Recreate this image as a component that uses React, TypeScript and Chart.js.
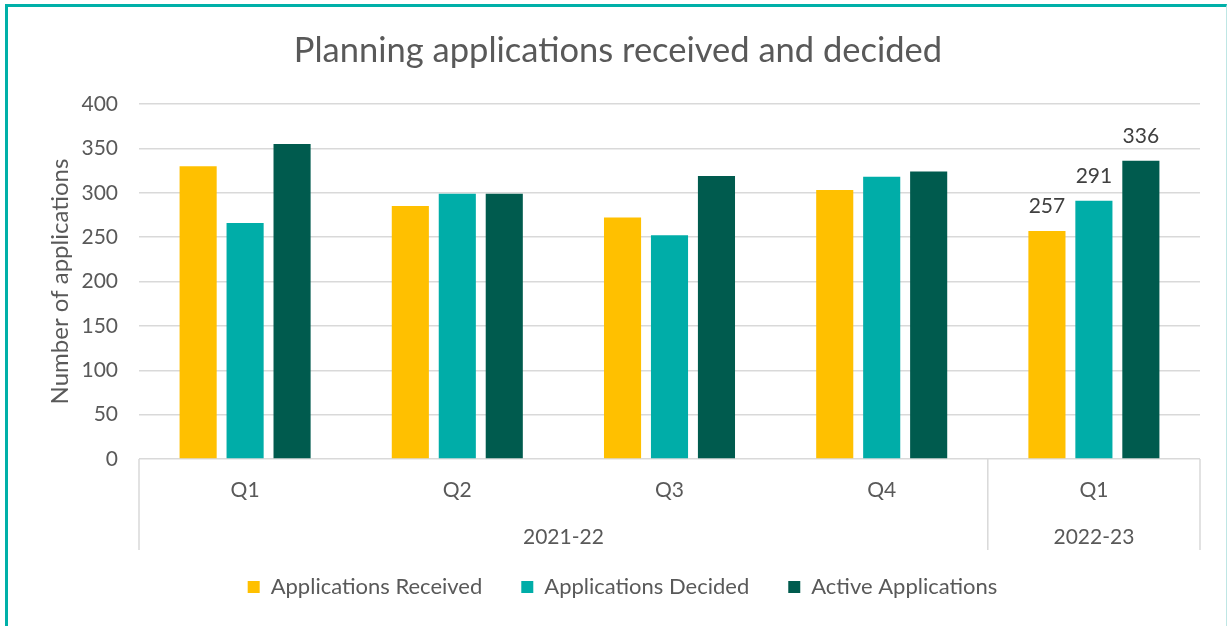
import React, { useEffect, useRef } from "react";
import { Chart, registerables } from "chart.js";

Chart.register(...registerables);

const quarters = ["Q1", "Q2", "Q3", "Q4", "Q1"];
const years = ["2021-22", "2022-23"];
const yearSpans = [4, 1];
const received = [330, 285, 272, 303, 257];
const decided = [266, 299, 252, 318, 291];
const active = [355, 299, 319, 324, 336];
const labelledIndex = 4;
const yTicks = [0, 50, 100, 150, 200, 250, 300, 350, 400];

const FONT = "Lato, 'Open Sans', sans-serif";
const TEXT = "#595959";
const GRID = "#d9d9d9";

const overlayPlugin = {
  id: "overlay",
  afterLayout(chart: any) {
    if (chart.legend) {
      chart.legend.left += 7.5;
      chart.legend.right += 7.5;
    }
  },
  afterDatasetsDraw(chart: any) {
    const { ctx } = chart;
    ctx.save();
    ctx.font = `21px ${FONT}`;
    ctx.fillStyle = "#404040";
    ctx.textAlign = "center";
    ctx.textBaseline = "alphabetic";
    chart.data.datasets.forEach((ds: any, di: number) => {
      const meta = chart.getDatasetMeta(di);
      const bar = meta.data[labelledIndex];
      if (!bar) return;
      ctx.fillText(String(ds.data[labelledIndex]), bar.x, bar.y - 18);
    });
    ctx.restore();
  },
  afterDraw(chart: any) {
    const { ctx, chartArea } = chart;
    const x = chart.scales.x;
    ctx.save();
    // title
    ctx.font = `34.5px ${FONT}`;
    ctx.fillStyle = TEXT;
    ctx.textAlign = "center";
    ctx.textBaseline = "alphabetic";
    ctx.fillText("Planning applications received and decided", 618, 62);

    // group separators and labels
    const bounds: number[] = [chartArea.left];
    let idx = 0;
    yearSpans.forEach((span) => {
      idx += span;
      if (idx < quarters.length) {
        bounds.push((x.getPixelForValue(idx - 1) + x.getPixelForValue(idx)) / 2);
      } else {
        bounds.push(chartArea.right);
      }
    });
    ctx.strokeStyle = GRID;
    ctx.lineWidth = 1.5;
    bounds.forEach((bx) => {
      ctx.beginPath();
      ctx.moveTo(bx, chartArea.bottom);
      ctx.lineTo(bx, chartArea.bottom + 91);
      ctx.stroke();
    });
    ctx.font = `21px ${FONT}`;
    ctx.fillStyle = TEXT;
    ctx.textBaseline = "middle";
    years.forEach((yr, i) => {
      ctx.fillText(yr, (bounds[i] + bounds[i + 1]) / 2, chartArea.bottom + 78);
    });
    ctx.restore();
  },
};

export default function App() {
  const ref = useRef<HTMLCanvasElement | null>(null);
  useEffect(() => {
    if (!ref.current) return;
    const chart = new Chart(ref.current, {
      type: "bar",
      data: {
        labels: quarters,
        datasets: [
          { label: "Applications Received", data: received, backgroundColor: "#FFC000" },
          { label: "Applications Decided", data: decided, backgroundColor: "#00ADA8" },
          { label: "Active Applications", data: active, backgroundColor: "#005B4E" },
        ],
      },
      options: {
        animation: false,
        responsive: false,
        maintainAspectRatio: false,
        devicePixelRatio: 1,
        datasets: { bar: { categoryPercentage: 0.664, barPercentage: 0.79 } },
        layout: { padding: { left: 30, right: 28, top: 104, bottom: 18 } },
        plugins: {
          title: { display: false },
          tooltip: { enabled: false },
          legend: {
            display: true,
            position: "bottom",
            labels: {
              boxWidth: 12,
              boxHeight: 12,
              padding: 39,
              color: TEXT,
              font: { family: FONT, size: 22 },
            },
          },
        },
        scales: {
          x: {
            grid: { display: false, drawTicks: false },
            border: { display: false },
            ticks: { color: TEXT, font: { family: FONT, size: 21 }, padding: 19 },
            afterFit: (s: any) => {
              s.height = 78;
            },
          },
          y: {
            min: 0,
            max: 400,
            afterBuildTicks: (s: any) => {
              s.ticks = yTicks.map((v) => ({ value: v }));
            },
            grid: { color: GRID, lineWidth: 1.5, drawTicks: false },
            border: { display: false },
            ticks: { color: TEXT, font: { family: FONT, size: 21 }, padding: 21 },
            title: {
              display: true,
              text: "Number of applications",
              color: TEXT,
              font: { family: FONT, size: 24 },
              padding: { top: 15.5, bottom: 0 },
            },
            afterFit: (s: any) => {
              s.width = 109;
            },
          },
        },
      },
      plugins: [overlayPlugin],
    });
    return () => chart.destroy();
  }, []);

  return (
    <div style={{ position: "absolute", left: 0, top: 0, width: 1228, height: 626, background: "#fff" }}>
      <canvas ref={ref} width={1228} height={626} style={{ position: "absolute", left: 0, top: 0 }} />
      <div
        style={{
          position: "absolute",
          left: 5,
          top: 4,
          width: 1218,
          height: 619,
          borderLeft: "3px solid #00B0A8",
          borderTop: "3px solid #00B0A8",
          borderRight: "1px solid #bfe6e4",
          borderBottom: "2px solid #00B0A8",
          pointerEvents: "none",
        }}
      />
    </div>
  );
}
